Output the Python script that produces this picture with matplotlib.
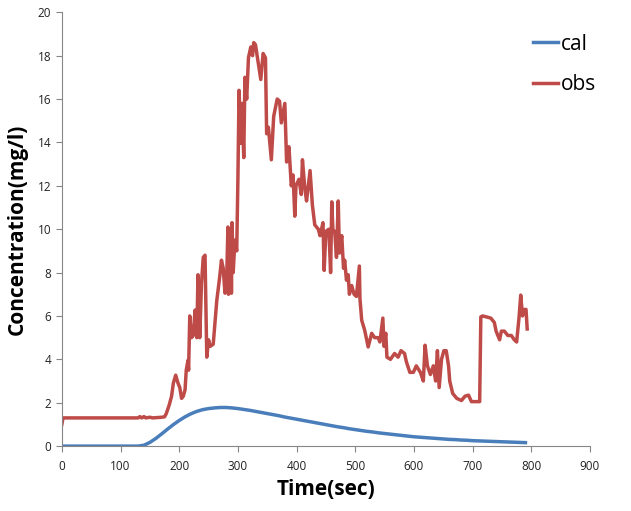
import matplotlib
matplotlib.use('Agg')
import matplotlib.pyplot as plt

# calculated concentration, every 10 s
cal_t = list(range(0, 800, 10))
cal_v = [0.0] * 14 + [
    0.04, 0.17, 0.35, 0.56, 0.78, 0.99, 1.18, 1.35, 1.49, 1.60,
    1.68, 1.73, 1.76, 1.78, 1.78, 1.76, 1.73, 1.69, 1.65, 1.60,
    1.55, 1.50, 1.45, 1.40, 1.34, 1.29, 1.24, 1.19, 1.14, 1.09,
    1.04, 0.99, 0.94, 0.89, 0.85, 0.80, 0.76, 0.72, 0.68, 0.65,
    0.61, 0.58, 0.55, 0.52, 0.49, 0.46, 0.43, 0.41, 0.39, 0.37,
    0.35, 0.33, 0.31, 0.30, 0.28, 0.27, 0.25, 0.24, 0.23, 0.22,
    0.21, 0.20, 0.19, 0.18, 0.17, 0.16]

obs_t = [0, 2, 130, 133, 136, 140, 143, 150, 155, 170, 175, 178, 183, 187, 190,
         194, 198, 201, 204, 207, 210, 212, 215, 216, 218, 221, 224, 227, 230,
         232, 235, 238, 241, 244, 247, 250, 253, 258, 264, 269, 272, 275, 278,
         281, 283, 284, 286, 288, 289, 290, 292, 295, 298, 300, 302, 305, 307,
         310, 312, 315, 318, 322, 325, 327, 330, 335, 339, 343, 347, 349, 352,
         357, 361, 367, 371, 374, 380, 383, 387, 391, 394, 397, 399, 404, 408,
         410, 414, 417, 423, 427, 431, 437, 440, 445, 447, 450, 455, 458, 460,
         462, 465, 468, 471, 473, 477, 480, 482, 485, 488, 490, 494, 498, 502,
         507, 508, 511, 516, 522, 528, 533, 539, 542, 547, 549, 552, 554, 560,
         567, 573, 578, 584, 587, 593, 599, 604, 611, 616, 619, 623, 628, 633,
         637, 640, 643, 647, 651, 655, 659, 661, 666, 673, 681, 687, 693, 698,
         707, 712, 714, 717, 723, 731, 737, 740, 743, 746, 749, 754, 760, 766,
         771, 775, 779, 782, 785, 788, 791, 793]
obs_v = [1.0, 1.3, 1.3, 1.36, 1.3, 1.36, 1.3, 1.33, 1.3, 1.33, 1.35, 1.5, 1.9,
         2.3, 2.9, 3.27, 2.9, 2.7, 2.2, 2.3, 2.6, 3.5, 3.96, 3.5, 6.0, 5.0, 5.1,
         6.27, 5.0, 7.9, 5.0, 7.5, 8.7, 8.8, 4.1, 4.9, 4.6, 4.7, 6.7, 7.8, 8.57,
         8.2, 7.05, 7.8, 10.1, 7.0, 8.26, 10.0, 7.05, 10.3, 8.0, 9.5, 9.0, 12.25,
         16.4, 13.96, 15.8, 13.3, 17.0, 16.0, 17.9, 18.4, 18.0, 18.6, 18.5, 17.6,
         16.9, 18.1, 17.9, 14.4, 14.7, 13.2, 15.2, 16.0, 15.9, 14.9, 15.8, 13.1,
         13.8, 12.0, 12.5, 10.6, 12.0, 12.3, 11.6, 13.2, 11.9, 11.3, 12.7, 11.1,
         10.2, 10.0, 9.7, 10.3, 8.1, 9.9, 10.0, 8.0, 11.26, 9.9, 9.9, 8.7, 11.3,
         8.9, 9.7, 8.2, 8.57, 7.65, 7.9, 7.0, 7.4, 7.0, 6.9, 8.3, 6.8, 5.8, 5.35,
         4.57, 5.2, 5.0, 5.0, 4.8, 5.9, 4.6, 5.2, 4.1, 4.0, 4.27, 4.1, 4.4, 4.27,
         3.9, 3.4, 3.4, 3.7, 3.4, 3.0, 4.65, 3.7, 3.3, 3.7, 3.0, 4.4, 2.7, 4.0,
         4.4, 4.4, 3.7, 3.0, 2.43, 2.2, 2.1, 2.3, 2.35, 2.05, 2.05, 2.05, 5.96,
         6.0, 5.96, 5.9, 5.7, 5.3, 5.1, 4.9, 5.3, 5.3, 5.1, 5.1, 4.9, 4.8, 5.9,
         6.96, 6.0, 6.3, 6.3, 5.4]

x_ticks = list(range(0, 901, 100))
y_ticks = list(range(0, 21, 2))

plt.rcParams['font.family'] = ['Open Sans', 'DejaVu Sans']

fig = plt.figure(figsize=(6.31, 5.11), dpi=100)
ax = fig.add_axes([0.098, 0.127, 0.837, 0.849])

ax.plot(cal_t, cal_v, color='#4A7EBB', linewidth=2.5, label='cal')
ax.plot(obs_t, obs_v, color='#BE4B48', linewidth=2.5, label='obs')

ax.set_xlim(0, 900)
ax.set_ylim(0, 20)
ax.set_xticks(x_ticks)
ax.set_yticks(y_ticks)
ax.tick_params(direction='out', length=4, color='#868686', labelsize=8.5, labelcolor='#222222')
ax.tick_params(axis='x', pad=6)
for s in ['top', 'right']:
    ax.spines[s].set_visible(False)
for s in ['left', 'bottom']:
    ax.spines[s].set_color('#868686')

ax.set_xlabel('Time(sec)', fontsize=15, fontweight='bold', labelpad=4)
ax.set_ylabel('Concentration(mg/l)', fontsize=15, fontweight='bold', labelpad=7)

ax.legend(loc='upper left', bbox_to_anchor=(0.893, 0.951), frameon=False, fontsize=15,
          handlelength=1.2, handletextpad=0.1, labelspacing=0.95, borderaxespad=0,
          borderpad=0)

fig.savefig('out.png', dpi=100)
